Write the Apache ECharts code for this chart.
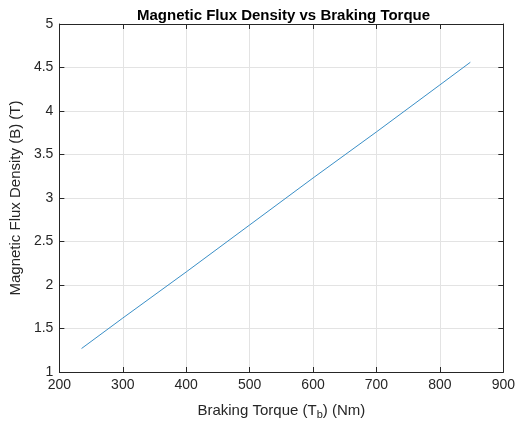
<!DOCTYPE html>
<html><head><meta charset="utf-8">
<script src="https://cdn.jsdelivr.net/npm/echarts@6/dist/echarts.min.js"></script>
<style>html,body{margin:0;padding:0;background:#fff}#c{width:518px;height:425px}</style>
</head><body><div id="c"></div>
<script>
const torque = [235, 300, 400, 500, 600, 700, 800, 848];
const fluxDensity = [1.27, 1.62, 2.15, 2.69, 3.23, 3.76, 4.30, 4.56];
const xTicks = [200, 300, 400, 500, 600, 700, 800, 900];
const yTicks = [1, 1.5, 2, 2.5, 3, 3.5, 4, 4.5, 5];

const font = 'Liberation Sans, Arial, sans-serif';
const txt = '#262626';
const chart = echarts.init(document.getElementById('c'));
const baseX = {
  type: 'value', min: xTicks[0], max: xTicks[xTicks.length-1], interval: 100,
  axisLine: {show: true, onZero: false, lineStyle: {color: txt, width: 1}},
  axisTick: {show: true, inside: true, length: 5, lineStyle: {color: txt}},
  splitLine: {show: false}
};
const baseY = {
  type: 'value', min: yTicks[0], max: yTicks[yTicks.length-1], interval: 0.5,
  axisLine: {show: true, onZero: false, lineStyle: {color: txt, width: 1}},
  axisTick: {show: true, inside: true, length: 5, lineStyle: {color: txt}},
  splitLine: {show: false}
};
chart.setOption({
  animation: false,
  backgroundColor: '#fff',
  title: {
    text: 'Magnetic Flux Density vs Braking Torque',
    left: 132, top: 3,
    textStyle: {fontFamily: font, fontWeight: 'bold', fontSize: 15, color: '#000'}
  },
  grid: {left: 58, right: 10, top: 24, bottom: 51},
  xAxis: [
    Object.assign({}, baseX, {
      position: 'bottom',
      name: '{a|Braking Torque (T}{s|b}{a|) (Nm)}',
      nameLocation: 'middle', nameGap: 29,
      nameTextStyle: {rich: {
        a: {fontFamily: font, fontSize: 15, color: txt},
        s: {fontFamily: font, fontSize: 11, color: txt, verticalAlign: 'bottom', padding: [8,0,0,0]}
      }},
      axisLabel: {fontFamily: font, fontSize: 14, color: txt, margin: 6},
      splitLine: {show: true, lineStyle: {color: '#e3e3e3', width: 1}}
    }),
    Object.assign({}, baseX, {position: 'top', axisLabel: {show: false}})
  ],
  yAxis: [
    Object.assign({}, baseY, {
      position: 'left',
      name: 'Magnetic Flux Density (B) (T)',
      nameLocation: 'middle', nameGap: 29,
      nameTextStyle: {fontFamily: font, fontSize: 15, color: txt},
      axisLabel: {fontFamily: font, fontSize: 14, color: txt, margin: 6},
      splitLine: {show: true, lineStyle: {color: '#e3e3e3', width: 1}}
    }),
    Object.assign({}, baseY, {position: 'right', axisLabel: {show: false}})
  ],
  series: [{
    type: 'line',
    data: torque.map((t, i) => [t, fluxDensity[i]]),
    showSymbol: false,
    lineStyle: {color: '#3a8fc7', width: 1},
    xAxisIndex: 0, yAxisIndex: 0
  }]
});
</script></body></html>
